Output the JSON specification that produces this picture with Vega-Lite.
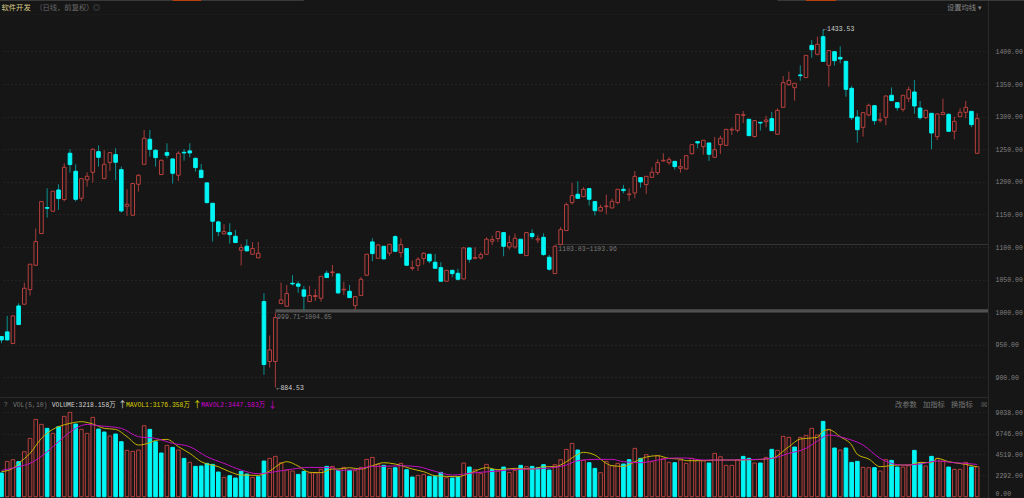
{"$schema":"https://vega.github.io/schema/vega-lite/v6.json","background":"#161616","padding":0,"spacing":0,"config":{"view":{"stroke":null},"concat":{"spacing":0},"axis":{"labelFont":"Liberation Mono","labelFontSize":6.5,"labelColor":"#808080","labelOverlap":false,"tickCount":30,"ticks":false,"title":null,"domainColor":"#2a2a2a","gridColor":"#303030","gridDash":[1,3],"gridWidth":1,"labelPadding":7}},"datasets":{"candles":[
{"i":0,"o":962.7,"c":957.6,"h":963.7,"l":952.5,"v":2528,"d":"d","vd":"d"},
{"i":1,"o":969.9,"c":957.6,"h":994.4,"l":956.6,"v":3774,"d":"d","vd":"u"},
{"i":2,"o":952,"c":994.4,"h":995.4,"l":951.5,"v":3952,"d":"u","vd":"u"},
{"i":3,"o":1009.7,"c":981.1,"h":1013.8,"l":981.1,"v":3738,"d":"d","vd":"d"},
{"i":4,"o":1012.3,"c":1036.8,"h":1045.5,"l":1012.3,"v":4806,"d":"u","vd":"u"},
{"i":5,"o":1034.8,"c":1073.7,"h":1073.7,"l":1025.6,"v":6230,"d":"u","vd":"u"},
{"i":6,"o":1072.1,"c":1108.4,"h":1128.3,"l":1072.1,"v":8259,"d":"u","vd":"u"},
{"i":7,"o":1120.7,"c":1169.8,"h":1169.8,"l":1120.2,"v":7725,"d":"u","vd":"u"},
{"i":8,"o":1160.6,"c":1159.5,"h":1190.2,"l":1145.2,"v":7298,"d":"d","vd":"d"},
{"i":9,"o":1154.9,"c":1185.6,"h":1185.6,"l":1154.4,"v":6764,"d":"u","vd":"u"},
{"i":10,"o":1187.6,"c":1174.4,"h":1196.3,"l":1157,"v":7476,"d":"d","vd":"d"},
{"i":11,"o":1172.8,"c":1222.4,"h":1228.5,"l":1170.3,"v":8580,"d":"u","vd":"u"},
{"i":12,"o":1243.9,"c":1226.5,"h":1250,"l":1214.2,"v":9007,"d":"d","vd":"u"},
{"i":13,"o":1216.3,"c":1173.3,"h":1227,"l":1169.8,"v":7761,"d":"d","vd":"d"},
{"i":14,"o":1174.9,"c":1205,"h":1205,"l":1170.3,"v":7191,"d":"u","vd":"u"},
{"i":15,"o":1203,"c":1208.6,"h":1214.7,"l":1192.8,"v":6764,"d":"u","vd":"u"},
{"i":16,"o":1214.7,"c":1250,"h":1251.5,"l":1198.9,"v":8473,"d":"u","vd":"u"},
{"i":17,"o":1246.4,"c":1237.7,"h":1256.1,"l":1223.4,"v":7227,"d":"d","vd":"d"},
{"i":18,"o":1205,"c":1227,"h":1248.5,"l":1204,"v":6906,"d":"u","vd":"d"},
{"i":19,"o":1229.6,"c":1244.9,"h":1245.9,"l":1216.8,"v":6479,"d":"u","vd":"u"},
{"i":20,"o":1241.8,"c":1230.1,"h":1251.5,"l":1202.5,"v":6693,"d":"d","vd":"d"},
{"i":21,"o":1218.8,"c":1155.4,"h":1223.4,"l":1152.9,"v":5874,"d":"d","vd":"d"},
{"i":22,"o":1162.6,"c":1165.7,"h":1188.7,"l":1147.8,"v":4948,"d":"u","vd":"u"},
{"i":23,"o":1148.8,"c":1197.4,"h":1198.4,"l":1148.3,"v":4842,"d":"u","vd":"u"},
{"i":24,"o":1196.3,"c":1210.1,"h":1211.7,"l":1185.1,"v":4984,"d":"u","vd":"u"},
{"i":25,"o":1227,"c":1266.9,"h":1279.7,"l":1227,"v":7583,"d":"u","vd":"u"},
{"i":26,"o":1265.4,"c":1250,"h":1279.7,"l":1238.8,"v":7191,"d":"d","vd":"d"},
{"i":27,"o":1248.5,"c":1237.2,"h":1250,"l":1223.4,"v":5874,"d":"d","vd":"d"},
{"i":28,"o":1211.2,"c":1233.1,"h":1234.2,"l":1211.2,"v":4664,"d":"u","vd":"d"},
{"i":29,"o":1244.9,"c":1240.8,"h":1259.2,"l":1236.2,"v":5482,"d":"d","vd":"u"},
{"i":30,"o":1235.2,"c":1213.2,"h":1235.2,"l":1197.4,"v":5269,"d":"d","vd":"d"},
{"i":31,"o":1210.1,"c":1243.9,"h":1246.9,"l":1201.4,"v":4984,"d":"u","vd":"u"},
{"i":32,"o":1245.4,"c":1244.4,"h":1250.5,"l":1232.6,"v":4094,"d":"d","vd":"d"},
{"i":33,"o":1247.5,"c":1244.4,"h":1259.2,"l":1237.7,"v":3667,"d":"d","vd":"u"},
{"i":34,"o":1236.2,"c":1221.9,"h":1236.2,"l":1215.8,"v":3240,"d":"d","vd":"d"},
{"i":35,"o":1217.8,"c":1206.6,"h":1227.5,"l":1206.6,"v":3275,"d":"d","vd":"d"},
{"i":36,"o":1198.4,"c":1168.2,"h":1199.4,"l":1166.7,"v":3560,"d":"d","vd":"d"},
{"i":37,"o":1167.2,"c":1139.6,"h":1167.2,"l":1108.4,"v":3453,"d":"d","vd":"d"},
{"i":38,"o":1138.6,"c":1123.7,"h":1140.6,"l":1116.6,"v":2634,"d":"d","vd":"d"},
{"i":39,"o":1120.2,"c":1123.7,"h":1135,"l":1120.2,"v":2065,"d":"u","vd":"u"},
{"i":40,"o":1122.2,"c":1119.1,"h":1136.5,"l":1105.3,"v":2243,"d":"d","vd":"d"},
{"i":41,"o":1116.6,"c":1106.9,"h":1126.3,"l":1106.9,"v":1994,"d":"d","vd":"d"},
{"i":42,"o":1095.1,"c":1099.2,"h":1104.3,"l":1071.6,"v":2706,"d":"u","vd":"d"},
{"i":43,"o":1101.3,"c":1094.1,"h":1112,"l":1094.1,"v":2421,"d":"d","vd":"d"},
{"i":44,"o":1089,"c":1097.7,"h":1107.4,"l":1089,"v":2065,"d":"u","vd":"u"},
{"i":45,"o":1083.4,"c":1090.5,"h":1107.9,"l":1083.4,"v":2136,"d":"u","vd":"d"},
{"i":46,"o":1016.4,"c":919.8,"h":1029.2,"l":904,"v":3809,"d":"d","vd":"d"},
{"i":47,"o":924.4,"c":942.3,"h":964.3,"l":915.2,"v":4094,"d":"u","vd":"u"},
{"i":48,"o":924.4,"c":991.9,"h":999.5,"l":884.53,"v":4308,"d":"u","vd":"u"},
{"i":49,"o":1013.3,"c":1019,"h":1045.5,"l":1013.3,"v":3631,"d":"u","vd":"u"},
{"i":50,"o":1009.2,"c":1028.7,"h":1042,"l":1009.2,"v":2848,"d":"u","vd":"u"},
{"i":51,"o":1044.5,"c":1043.5,"h":1056.8,"l":1040.9,"v":2741,"d":"d","vd":"u"},
{"i":52,"o":1043.5,"c":1039.9,"h":1047.6,"l":1029.7,"v":2385,"d":"d","vd":"d"},
{"i":53,"o":1034.3,"c":1024.6,"h":1040.4,"l":1003.6,"v":2706,"d":"d","vd":"d"},
{"i":54,"o":1016.4,"c":1025.6,"h":1040.4,"l":1015.9,"v":2528,"d":"u","vd":"u"},
{"i":55,"o":1024.1,"c":1025.6,"h":1035.3,"l":1017.4,"v":2528,"d":"u","vd":"u"},
{"i":56,"o":1021.5,"c":1055.2,"h":1055.2,"l":1016.4,"v":2919,"d":"u","vd":"u"},
{"i":57,"o":1059.8,"c":1053.2,"h":1063.9,"l":1053.2,"v":3240,"d":"d","vd":"d"},
{"i":58,"o":1060.8,"c":1061.9,"h":1072.6,"l":1054.7,"v":3240,"d":"u","vd":"u"},
{"i":59,"o":1058.8,"c":1029.7,"h":1058.8,"l":1028.1,"v":2812,"d":"d","vd":"d"},
{"i":60,"o":1034.3,"c":1035.3,"h":1046.5,"l":1026.6,"v":3133,"d":"u","vd":"u"},
{"i":61,"o":1032.2,"c":1022.5,"h":1041.9,"l":1022.5,"v":2812,"d":"d","vd":"d"},
{"i":62,"o":1010.2,"c":1024,"h":1024,"l":1003.6,"v":2777,"d":"u","vd":"u"},
{"i":63,"o":1025.6,"c":1050.6,"h":1053.7,"l":1025.6,"v":3133,"d":"u","vd":"u"},
{"i":64,"o":1056.8,"c":1089,"h":1089.5,"l":1056.2,"v":3987,"d":"u","vd":"u"},
{"i":65,"o":1107.9,"c":1090,"h":1113.5,"l":1078.2,"v":4201,"d":"d","vd":"u"},
{"i":66,"o":1082.8,"c":1103.3,"h":1104.3,"l":1082.8,"v":3453,"d":"u","vd":"u"},
{"i":67,"o":1101.2,"c":1081.8,"h":1101.2,"l":1081.3,"v":3346,"d":"d","vd":"d"},
{"i":68,"o":1090.5,"c":1104.3,"h":1104.3,"l":1086.4,"v":3026,"d":"u","vd":"u"},
{"i":69,"o":1116.1,"c":1093.6,"h":1118.1,"l":1092,"v":3097,"d":"d","vd":"d"},
{"i":70,"o":1091.5,"c":1103.8,"h":1113.5,"l":1083.9,"v":3560,"d":"u","vd":"u"},
{"i":71,"o":1097.7,"c":1072.1,"h":1097.7,"l":1071.6,"v":2884,"d":"d","vd":"d"},
{"i":72,"o":1067.5,"c":1068.5,"h":1079.3,"l":1063.9,"v":2100,"d":"u","vd":"d"},
{"i":73,"o":1071.6,"c":1081.3,"h":1084.4,"l":1063.4,"v":2278,"d":"u","vd":"u"},
{"i":74,"o":1082.3,"c":1090.5,"h":1092,"l":1073.1,"v":2385,"d":"u","vd":"u"},
{"i":75,"o":1089,"c":1078.7,"h":1089,"l":1075.2,"v":2172,"d":"d","vd":"d"},
{"i":76,"o":1076.7,"c":1067.5,"h":1089.5,"l":1067.5,"v":2172,"d":"d","vd":"d"},
{"i":77,"o":1068.5,"c":1047.6,"h":1076.7,"l":1047.6,"v":2599,"d":"d","vd":"d"},
{"i":78,"o":1047.6,"c":1064.4,"h":1064.4,"l":1047,"v":2029,"d":"u","vd":"u"},
{"i":79,"o":1064.4,"c":1059.3,"h":1064.4,"l":1053.7,"v":1994,"d":"d","vd":"d"},
{"i":80,"o":1059.8,"c":1050.6,"h":1066.5,"l":1048.6,"v":2136,"d":"d","vd":"d"},
{"i":81,"o":1051.1,"c":1098.7,"h":1099.7,"l":1050.6,"v":3596,"d":"u","vd":"u"},
{"i":82,"o":1098.7,"c":1081.3,"h":1098.7,"l":1076.2,"v":3168,"d":"d","vd":"d"},
{"i":83,"o":1082.8,"c":1083.9,"h":1099.7,"l":1081.3,"v":2884,"d":"u","vd":"u"},
{"i":84,"o":1083.3,"c":1088.5,"h":1092,"l":1081.3,"v":2492,"d":"u","vd":"u"},
{"i":85,"o":1089,"c":1112,"h":1115,"l":1088.5,"v":3453,"d":"u","vd":"u"},
{"i":86,"o":1108.9,"c":1111.5,"h":1117.6,"l":1102.8,"v":2919,"d":"u","vd":"d"},
{"i":87,"o":1113,"c":1123.7,"h":1124.7,"l":1107.9,"v":2741,"d":"u","vd":"u"},
{"i":88,"o":1122.2,"c":1101.2,"h":1122.2,"l":1085.9,"v":3168,"d":"d","vd":"d"},
{"i":89,"o":1100.2,"c":1106.9,"h":1117.6,"l":1096.1,"v":2599,"d":"u","vd":"u"},
{"i":90,"o":1100.2,"c":1113.5,"h":1120.7,"l":1097.7,"v":2812,"d":"u","vd":"u"},
{"i":91,"o":1112,"c":1090.5,"h":1112,"l":1090,"v":3346,"d":"d","vd":"d"},
{"i":92,"o":1086.9,"c":1122.2,"h":1122.7,"l":1086.9,"v":3204,"d":"u","vd":"u"},
{"i":93,"o":1120.7,"c":1116.1,"h":1127.3,"l":1112,"v":3240,"d":"d","vd":"d"},
{"i":94,"o":1111,"c":1112.5,"h":1118.1,"l":1106.3,"v":3097,"d":"u","vd":"d"},
{"i":95,"o":1115,"c":1088.5,"h":1121.2,"l":1086.4,"v":3418,"d":"d","vd":"d"},
{"i":96,"o":1084.4,"c":1066,"h":1087.9,"l":1063.9,"v":2848,"d":"d","vd":"d"},
{"i":97,"o":1059.3,"c":1101.2,"h":1102.8,"l":1058.8,"v":3418,"d":"u","vd":"u"},
{"i":98,"o":1103.8,"c":1126.8,"h":1130.9,"l":1103.8,"v":3952,"d":"u","vd":"u"},
{"i":99,"o":1125.3,"c":1165.1,"h":1168.2,"l":1125.3,"v":5055,"d":"u","vd":"u"},
{"i":100,"o":1168.2,"c":1178.9,"h":1198.4,"l":1165.1,"v":5696,"d":"u","vd":"u"},
{"i":101,"o":1181,"c":1174.8,"h":1200.9,"l":1174.8,"v":4984,"d":"d","vd":"d"},
{"i":102,"o":1177.4,"c":1188.6,"h":1191.7,"l":1176.4,"v":3880,"d":"u","vd":"u"},
{"i":103,"o":1189.7,"c":1173.3,"h":1189.7,"l":1163.6,"v":3631,"d":"d","vd":"d"},
{"i":104,"o":1169.7,"c":1155.9,"h":1169.7,"l":1148.3,"v":3026,"d":"d","vd":"d"},
{"i":105,"o":1155.4,"c":1161,"h":1165.1,"l":1154.9,"v":2563,"d":"u","vd":"u"},
{"i":106,"o":1162,"c":1163,"h":1180.4,"l":1150.3,"v":3774,"d":"u","vd":"u"},
{"i":107,"o":1160,"c":1170.2,"h":1174.3,"l":1159.5,"v":3311,"d":"u","vd":"u"},
{"i":108,"o":1168.2,"c":1188.6,"h":1188.6,"l":1165.6,"v":3560,"d":"u","vd":"u"},
{"i":109,"o":1188.6,"c":1186.6,"h":1195.3,"l":1182.5,"v":3489,"d":"d","vd":"d"},
{"i":110,"o":1180.4,"c":1181.5,"h":1190.1,"l":1170.7,"v":3952,"d":"u","vd":"d"},
{"i":111,"o":1183,"c":1208.5,"h":1216.7,"l":1174.8,"v":5162,"d":"u","vd":"u"},
{"i":112,"o":1206.5,"c":1199.9,"h":1206.5,"l":1191.2,"v":4094,"d":"d","vd":"d"},
{"i":113,"o":1195.8,"c":1208.5,"h":1208.5,"l":1181.5,"v":4486,"d":"u","vd":"u"},
{"i":114,"o":1207,"c":1214.7,"h":1222.3,"l":1206.5,"v":3738,"d":"u","vd":"u"},
{"i":115,"o":1214.2,"c":1229.5,"h":1234.6,"l":1210.6,"v":4379,"d":"u","vd":"u"},
{"i":116,"o":1232.1,"c":1233.1,"h":1243.8,"l":1231,"v":4094,"d":"u","vd":"u"},
{"i":117,"o":1229.5,"c":1234.1,"h":1238.2,"l":1226.4,"v":3667,"d":"u","vd":"u"},
{"i":118,"o":1231.5,"c":1223.4,"h":1231.5,"l":1218.8,"v":3631,"d":"d","vd":"d"},
{"i":119,"o":1220.8,"c":1223.4,"h":1235.1,"l":1214.2,"v":3916,"d":"u","vd":"u"},
{"i":120,"o":1219.8,"c":1240.2,"h":1240.8,"l":1219.3,"v":3560,"d":"u","vd":"u"},
{"i":121,"o":1243.3,"c":1257.1,"h":1258.1,"l":1241.8,"v":4094,"d":"u","vd":"u"},
{"i":122,"o":1261.7,"c":1259.7,"h":1262.7,"l":1251.5,"v":3880,"d":"d","vd":"u"},
{"i":123,"o":1254,"c":1263.8,"h":1263.8,"l":1241.8,"v":3845,"d":"u","vd":"u"},
{"i":124,"o":1259.7,"c":1242.3,"h":1259.7,"l":1232.1,"v":3596,"d":"d","vd":"d"},
{"i":125,"o":1237.7,"c":1249.4,"h":1268.9,"l":1237.2,"v":4628,"d":"u","vd":"u"},
{"i":126,"o":1257.1,"c":1266.8,"h":1270.9,"l":1242.8,"v":4272,"d":"u","vd":"u"},
{"i":127,"o":1256.1,"c":1280.6,"h":1280.6,"l":1255.6,"v":3346,"d":"u","vd":"u"},
{"i":128,"o":1279.6,"c":1280.6,"h":1283.7,"l":1271.9,"v":3346,"d":"u","vd":"u"},
{"i":129,"o":1279.1,"c":1303.6,"h":1303.6,"l":1276,"v":3952,"d":"u","vd":"u"},
{"i":130,"o":1302.1,"c":1303.1,"h":1308.7,"l":1290.3,"v":4308,"d":"u","vd":"d"},
{"i":131,"o":1296,"c":1270.9,"h":1296,"l":1270.4,"v":4094,"d":"d","vd":"d"},
{"i":132,"o":1269.4,"c":1293.9,"h":1294.9,"l":1268.4,"v":3596,"d":"u","vd":"u"},
{"i":133,"o":1291.4,"c":1290.3,"h":1291.4,"l":1278.6,"v":3596,"d":"d","vd":"d"},
{"i":134,"o":1292.4,"c":1294.9,"h":1301.6,"l":1283.7,"v":4201,"d":"u","vd":"u"},
{"i":135,"o":1297,"c":1278.6,"h":1307.2,"l":1278.6,"v":5055,"d":"d","vd":"d"},
{"i":136,"o":1273,"c":1309.8,"h":1312.8,"l":1272.4,"v":4948,"d":"u","vd":"u"},
{"i":137,"o":1314.4,"c":1352.2,"h":1362.4,"l":1313.9,"v":6444,"d":"u","vd":"u"},
{"i":138,"o":1349.1,"c":1355.8,"h":1369.1,"l":1347.6,"v":6337,"d":"u","vd":"u"},
{"i":139,"o":1344.5,"c":1351.2,"h":1351.2,"l":1324.6,"v":5304,"d":"u","vd":"d"},
{"i":140,"o":1364,"c":1362.9,"h":1378.8,"l":1355.3,"v":6337,"d":"d","vd":"u"},
{"i":141,"o":1359.9,"c":1394.1,"h":1394.1,"l":1359.9,"v":6550,"d":"u","vd":"u"},
{"i":142,"o":1409.4,"c":1402.8,"h":1417.6,"l":1390.5,"v":7298,"d":"d","vd":"u"},
{"i":143,"o":1395.6,"c":1411,"h":1422.7,"l":1394.1,"v":6586,"d":"u","vd":"u"},
{"i":144,"o":1422.7,"c":1384.9,"h":1433.53,"l":1384.9,"v":8046,"d":"d","vd":"d"},
{"i":145,"o":1378.8,"c":1401.3,"h":1401.3,"l":1346.1,"v":7191,"d":"u","vd":"u"},
{"i":146,"o":1399.7,"c":1385.9,"h":1399.7,"l":1378.3,"v":5198,"d":"d","vd":"d"},
{"i":147,"o":1391,"c":1388.5,"h":1407.9,"l":1381.8,"v":4984,"d":"d","vd":"u"},
{"i":148,"o":1384.9,"c":1342,"h":1384.9,"l":1330.7,"v":5198,"d":"d","vd":"d"},
{"i":149,"o":1343.5,"c":1298.5,"h":1347.1,"l":1295,"v":3667,"d":"d","vd":"d"},
{"i":150,"o":1299.5,"c":1280.1,"h":1310.3,"l":1260.2,"v":3774,"d":"d","vd":"d"},
{"i":151,"o":1283.7,"c":1306.2,"h":1306.2,"l":1269.4,"v":3133,"d":"u","vd":"u"},
{"i":152,"o":1302.6,"c":1317.4,"h":1320,"l":1300.6,"v":3097,"d":"u","vd":"u"},
{"i":153,"o":1316.9,"c":1293.9,"h":1316.9,"l":1287.8,"v":3097,"d":"d","vd":"d"},
{"i":154,"o":1294.4,"c":1296,"h":1306.2,"l":1290.8,"v":2741,"d":"u","vd":"u"},
{"i":155,"o":1299,"c":1331.7,"h":1332.8,"l":1286.8,"v":3952,"d":"u","vd":"u"},
{"i":156,"o":1332.8,"c":1324.6,"h":1345,"l":1324.6,"v":3880,"d":"d","vd":"d"},
{"i":157,"o":1321.5,"c":1313.9,"h":1321.5,"l":1309.3,"v":3168,"d":"d","vd":"d"},
{"i":158,"o":1311.3,"c":1332.8,"h":1332.8,"l":1307.7,"v":3168,"d":"u","vd":"u"},
{"i":159,"o":1328.2,"c":1341.5,"h":1346.1,"l":1322.5,"v":3311,"d":"u","vd":"u"},
{"i":160,"o":1337.9,"c":1316.4,"h":1356.3,"l":1304.6,"v":4948,"d":"d","vd":"d"},
{"i":161,"o":1313.3,"c":1298.5,"h":1324.1,"l":1295.4,"v":3524,"d":"d","vd":"d"},
{"i":162,"o":1298.5,"c":1309.8,"h":1309.8,"l":1296.5,"v":3275,"d":"u","vd":"u"},
{"i":163,"o":1305.2,"c":1275,"h":1305.2,"l":1250,"v":4308,"d":"d","vd":"d"},
{"i":164,"o":1269.4,"c":1304.1,"h":1305.2,"l":1264.3,"v":4094,"d":"u","vd":"u"},
{"i":165,"o":1303.1,"c":1306.2,"h":1327.7,"l":1302.6,"v":3809,"d":"u","vd":"u"},
{"i":166,"o":1303.6,"c":1277.6,"h":1305.2,"l":1277.6,"v":3168,"d":"d","vd":"d"},
{"i":167,"o":1277.6,"c":1292.9,"h":1300,"l":1265.3,"v":2919,"d":"u","vd":"u"},
{"i":168,"o":1300,"c":1306.7,"h":1312.8,"l":1300,"v":2919,"d":"u","vd":"u"},
{"i":169,"o":1306.7,"c":1314.4,"h":1324.1,"l":1297.5,"v":3667,"d":"u","vd":"u"},
{"i":170,"o":1308.2,"c":1287.8,"h":1308.2,"l":1283.7,"v":3168,"d":"d","vd":"d"},
{"i":171,"o":1243.8,"c":1297,"h":1305.2,"l":1243.8,"v":3218.158,"d":"u","vd":"u"}
],
"ma":[
{"i":0,"s":"ma5","v":2670},{"i":2,"s":"ma5","v":3026},{"i":3,"s":"ma5","v":3560},{"i":5,"s":"ma5","v":4628},{"i":7,"s":"ma5","v":6230},{"i":9,"s":"ma5","v":7191},{"i":10,"s":"ma5","v":7476},{"i":12,"s":"ma5","v":7832},{"i":14,"s":"ma5","v":8010},{"i":16,"s":"ma5","v":7761},{"i":18,"s":"ma5","v":7298},{"i":20,"s":"ma5","v":7191},{"i":22,"s":"ma5","v":6408},{"i":24,"s":"ma5","v":5518},{"i":26,"s":"ma5","v":5767},{"i":27,"s":"ma5","v":6016},{"i":29,"s":"ma5","v":6123},{"i":31,"s":"ma5","v":5340},{"i":33,"s":"ma5","v":4628},{"i":35,"s":"ma5","v":3738},{"i":38,"s":"ma5","v":3204},{"i":40,"s":"ma5","v":2670},{"i":42,"s":"ma5","v":2314},{"i":45,"s":"ma5","v":2278},{"i":47,"s":"ma5","v":2741},{"i":49,"s":"ma5","v":3560},{"i":50,"s":"ma5","v":3738},{"i":52,"s":"ma5","v":3275},{"i":54,"s":"ma5","v":2599},{"i":56,"s":"ma5","v":2563},{"i":58,"s":"ma5","v":2955},{"i":59,"s":"ma5","v":2955},{"i":61,"s":"ma5","v":3097},{"i":63,"s":"ma5","v":2955},{"i":65,"s":"ma5","v":3311},{"i":67,"s":"ma5","v":3631},{"i":69,"s":"ma5","v":3489},{"i":72,"s":"ma5","v":2955},{"i":74,"s":"ma5","v":2670},{"i":76,"s":"ma5","v":2243},{"i":80,"s":"ma5","v":2136},{"i":82,"s":"ma5","v":2492},{"i":85,"s":"ma5","v":3097},{"i":87,"s":"ma5","v":2884},{"i":90,"s":"ma5","v":3026},{"i":93,"s":"ma5","v":2955},{"i":95,"s":"ma5","v":3204},{"i":97,"s":"ma5","v":3204},{"i":99,"s":"ma5","v":3738},{"i":101,"s":"ma5","v":4521},{"i":102,"s":"ma5","v":4735},{"i":104,"s":"ma5","v":4450},{"i":106,"s":"ma5","v":3560},{"i":107,"s":"ma5","v":3311},{"i":109,"s":"ma5","v":3240},{"i":111,"s":"ma5","v":3738},{"i":113,"s":"ma5","v":4236},{"i":115,"s":"ma5","v":4379},{"i":117,"s":"ma5","v":4094},{"i":119,"s":"ma5","v":4023},{"i":120,"s":"ma5","v":3845},{"i":123,"s":"ma5","v":3845},{"i":125,"s":"ma5","v":3916},{"i":129,"s":"ma5","v":3916},{"i":132,"s":"ma5","v":3952},{"i":135,"s":"ma5","v":4094},{"i":138,"s":"ma5","v":5340},{"i":140,"s":"ma5","v":6159},{"i":143,"s":"ma5","v":6337},{"i":144,"s":"ma5","v":7013},{"i":145,"s":"ma5","v":7156},{"i":147,"s":"ma5","v":6408},{"i":149,"s":"ma5","v":5518},{"i":150,"s":"ma5","v":4521},{"i":152,"s":"ma5","v":4023},{"i":154,"s":"ma5","v":3204},{"i":157,"s":"ma5","v":3382},{"i":159,"s":"ma5","v":3382},{"i":161,"s":"ma5","v":3667},{"i":163,"s":"ma5","v":3631},{"i":164,"s":"ma5","v":4094},{"i":166,"s":"ma5","v":3738},{"i":169,"s":"ma5","v":3453},{"i":171,"s":"ma5","v":3176},
{"i":0,"s":"ma10","v":2812},{"i":3,"s":"ma10","v":3204},{"i":5,"s":"ma10","v":3560},{"i":8,"s":"ma10","v":4806},{"i":10,"s":"ma10","v":5874},{"i":13,"s":"ma10","v":7298},{"i":15,"s":"ma10","v":7725},{"i":17,"s":"ma10","v":7583},{"i":21,"s":"ma10","v":7298},{"i":24,"s":"ma10","v":6408},{"i":27,"s":"ma10","v":6230},{"i":30,"s":"ma10","v":5696},{"i":33,"s":"ma10","v":5340},{"i":36,"s":"ma10","v":4272},{"i":39,"s":"ma10","v":3560},{"i":42,"s":"ma10","v":2848},{"i":45,"s":"ma10","v":2456},{"i":48,"s":"ma10","v":2670},{"i":51,"s":"ma10","v":2955},{"i":54,"s":"ma10","v":3133},{"i":58,"s":"ma10","v":3097},{"i":59,"s":"ma10","v":2812},{"i":62,"s":"ma10","v":2884},{"i":65,"s":"ma10","v":3240},{"i":67,"s":"ma10","v":3240},{"i":70,"s":"ma10","v":3311},{"i":73,"s":"ma10","v":3204},{"i":76,"s":"ma10","v":2706},{"i":79,"s":"ma10","v":2314},{"i":83,"s":"ma10","v":2563},{"i":87,"s":"ma10","v":2741},{"i":90,"s":"ma10","v":2919},{"i":93,"s":"ma10","v":2955},{"i":97,"s":"ma10","v":3133},{"i":99,"s":"ma10","v":3382},{"i":101,"s":"ma10","v":3845},{"i":104,"s":"ma10","v":3987},{"i":107,"s":"ma10","v":3987},{"i":109,"s":"ma10","v":3738},{"i":112,"s":"ma10","v":3631},{"i":115,"s":"ma10","v":3916},{"i":118,"s":"ma10","v":4130},{"i":120,"s":"ma10","v":4130},{"i":123,"s":"ma10","v":3916},{"i":127,"s":"ma10","v":3916},{"i":131,"s":"ma10","v":3952},{"i":135,"s":"ma10","v":4094},{"i":138,"s":"ma10","v":4628},{"i":141,"s":"ma10","v":5162},{"i":143,"s":"ma10","v":5945},{"i":145,"s":"ma10","v":6586},{"i":148,"s":"ma10","v":6230},{"i":151,"s":"ma10","v":5518},{"i":154,"s":"ma10","v":4094},{"i":158,"s":"ma10","v":3382},{"i":161,"s":"ma10","v":3489},{"i":164,"s":"ma10","v":3809},{"i":167,"s":"ma10","v":3631},{"i":169,"s":"ma10","v":3560},{"i":171,"s":"ma10","v":3447}
],
"gaps":[{"from":48,"to":172.9,"lo":999.71,"hi":1004.65},{"from":97,"to":172.9,"lo":1103.03,"hi":1103.96}],
"strips":[
{"from":-0.263,"to":53,"lo":1477.5,"hi":1479,"k":"bar"},
{"from":136,"to":179.2,"lo":1477.5,"hi":1479,"k":"bar"},
{"from":30,"to":35,"lo":1477.5,"hi":1479,"k":"accent"},
{"from":141,"to":146.3,"lo":1477.5,"hi":1479,"k":"accent"},
{"from":-0.263,"to":172.9,"lo":1455.8,"hi":1456.6,"k":"rule"}
],
"priceNotes":[
{"i":144,"p":1434,"t":"←1433.53","k":"note"},
{"i":48.2,"p":884,"t":"←884.53","k":"note"},
{"i":48.3,"p":992,"t":"999.71~1004.65","k":"gap"},
{"i":97.6,"p":1097,"t":"1103.03~1103.96","k":"gap"}
],
"topNotes":[
{"i":0,"p":1467,"t":"软件开发","k":"name"},
{"i":5.9,"p":1467,"t":"（日线，前复权）","k":"dim"},
{"i":16,"p":1467,"t":"◎","k":"dim"},
{"i":165.7,"p":1467,"t":"设置均线 ▾","k":"menu"}
],
"volNotes":[
{"i":0.4,"p":9794,"t":"?","k":"dim"},
{"i":2,"p":9794,"t":"VOL(5,10)","k":"dim"},
{"i":8.8,"p":9794,"t":"VOLUME:3218.158万","k":"note"},
{"i":21.8,"p":9794,"t":"MAVOL1:3176.358万","k":"yellow"},
{"i":35,"p":9794,"t":"MAVOL2:3447.583万","k":"magenta"}
],
"volArrows":[
{"i":20.4,"p":9794,"t":"↑","k":"note"},
{"i":33.5,"p":9794,"t":"↑","k":"yellow"},
{"i":46.7,"p":9794,"t":"↓","k":"magenta"}
],
"volMenu":[
{"i":156.6,"p":9794,"t":"改参数"},
{"i":161.5,"p":9794,"t":"加指标"},
{"i":166.4,"p":9794,"t":"换指标"},
{"i":171.6,"p":9794,"t":"☒"}
]},
"vconcat":[
{"width":988,"height":397,"layer":[
{"data":{"name":"strips"},"mark":{"type":"rect"},"encoding":{"x":{"field":"from","type":"quantitative","scale":{"domain":[-0.263,172.9],"nice":false,"zero":false,"padding":0},"axis":null},"x2":{"field":"to"},"y":{"field":"lo","type":"quantitative","scale":{"domain":[870,1479],"nice":false,"zero":false,"padding":0},"axis":{"orient":"right","values":[900,950,1000,1050,1100,1150,1200,1250,1300,1350,1400],"format":".2f","grid":true}},"y2":{"field":"hi"},"fill":{"field":"k","type":"nominal","scale":{"domain":["bar","accent","rule"],"range":["#3a3a3a","#b8400c","#1f1f1f"]},"legend":null}}},
{"data":{"name":"gaps"},"mark":{"type":"rect","clip":true,"color":"#505050"},"encoding":{"x":{"field":"from","type":"quantitative"},"x2":{"field":"to"},"y":{"field":"lo","type":"quantitative"},"y2":{"field":"hi"}}},
{"data":{"name":"candles"},"mark":{"type":"rule","clip":true,"strokeWidth":1},"encoding":{"x":{"field":"i","type":"quantitative"},"y":{"field":"h","type":"quantitative"},"y2":{"field":"l"},"color":{"field":"d","type":"nominal","scale":{"domain":["u","d"],"range":["#a83c3c","#0c9090"]},"legend":null}}},
{"data":{"name":"candles"},"mark":{"type":"bar","orient":"vertical","clip":true,"width":3.6,"strokeWidth":1},"encoding":{"x":{"field":"i","type":"quantitative"},"y":{"field":"o","type":"quantitative"},"y2":{"field":"c"},"fill":{"field":"d","type":"nominal","scale":{"domain":["u","d"],"range":["#161616","#00f5f5"]},"legend":null},"stroke":{"field":"d","type":"nominal","scale":{"domain":["u","d"],"range":["#b8403e","#00f5f5"]},"legend":null}}},
{"data":{"name":"priceNotes"},"mark":{"type":"text","align":"left","baseline":"middle","font":"Liberation Mono","fontSize":6.5},"encoding":{"x":{"field":"i","type":"quantitative"},"y":{"field":"p","type":"quantitative"},"text":{"field":"t"},"color":{"field":"k","type":"nominal","scale":{"domain":["note","gap"],"range":["#d0d0d0","#777777"]},"legend":null}}},
{"data":{"name":"topNotes"},"mark":{"type":"text","align":"left","baseline":"middle","font":"Noto Sans CJK SC","fontSize":7.3},"encoding":{"x":{"field":"i","type":"quantitative"},"y":{"field":"p","type":"quantitative"},"text":{"field":"t"},"color":{"field":"k","type":"nominal","scale":{"domain":["name","dim","menu"],"range":["#d8c98a","#666666","#888888"]},"legend":null}}}
],"resolve":{"scale":{"fill":"independent","stroke":"independent","color":"independent"}}},
{"width":988,"height":101,"layer":[
{"data":{"name":"candles"},"mark":{"type":"bar","orient":"vertical","clip":true,"width":3.6,"strokeWidth":1},"encoding":{"x":{"field":"i","type":"quantitative","scale":{"domain":[-0.263,172.9],"nice":false,"zero":false,"padding":0},"axis":{"orient":"top","labels":false,"grid":false,"domain":true}},"y":{"field":"v","type":"quantitative","scale":{"domain":[-139,10648],"nice":false,"zero":false,"padding":0},"axis":{"orient":"right","values":[0,2292,4519,6746,9038],"format":".2f","grid":true,"labelBaseline":{"condition":{"test":"datum.value<1","value":"bottom"},"value":"middle"}}},"y2":{"datum":0},"fill":{"field":"vd","type":"nominal","scale":{"domain":["u","d"],"range":["#161616","#00f5f5"]},"legend":null},"stroke":{"field":"vd","type":"nominal","scale":{"domain":["u","d"],"range":["#b8403e","#00f5f5"]},"legend":null}}},
{"data":{"name":"ma"},"mark":{"type":"line","clip":true,"interpolate":"monotone","strokeWidth":1},"encoding":{"x":{"field":"i","type":"quantitative"},"y":{"field":"v","type":"quantitative"},"color":{"field":"s","type":"nominal","scale":{"domain":["ma5","ma10"],"range":["#c4b400","#c010c0"]},"legend":null}}},
{"data":{"name":"volNotes"},"mark":{"type":"text","align":"left","baseline":"middle","font":"Liberation Mono, Noto Sans CJK SC","fontSize":6.4},"encoding":{"x":{"field":"i","type":"quantitative"},"y":{"field":"p","type":"quantitative"},"text":{"field":"t"},"color":{"field":"k","type":"nominal","scale":{"domain":["note","dim","yellow","magenta"],"range":["#d0d0d0","#777777","#d8d000","#d000d0"]},"legend":null}}},
{"data":{"name":"volArrows"},"mark":{"type":"text","align":"left","baseline":"middle","font":"Noto Sans CJK SC","fontSize":9},"encoding":{"x":{"field":"i","type":"quantitative"},"y":{"field":"p","type":"quantitative"},"text":{"field":"t"},"color":{"field":"k","type":"nominal","scale":{"domain":["note","yellow","magenta"],"range":["#d0d0d0","#d8d000","#d000d0"]},"legend":null}}},
{"data":{"name":"volMenu"},"mark":{"type":"text","align":"left","baseline":"middle","font":"Noto Sans CJK SC","fontSize":7.3,"color":"#777777"},"encoding":{"x":{"field":"i","type":"quantitative"},"y":{"field":"p","type":"quantitative"},"text":{"field":"t"}}}
],"resolve":{"scale":{"fill":"independent","stroke":"independent","color":"independent"}}}
]}
